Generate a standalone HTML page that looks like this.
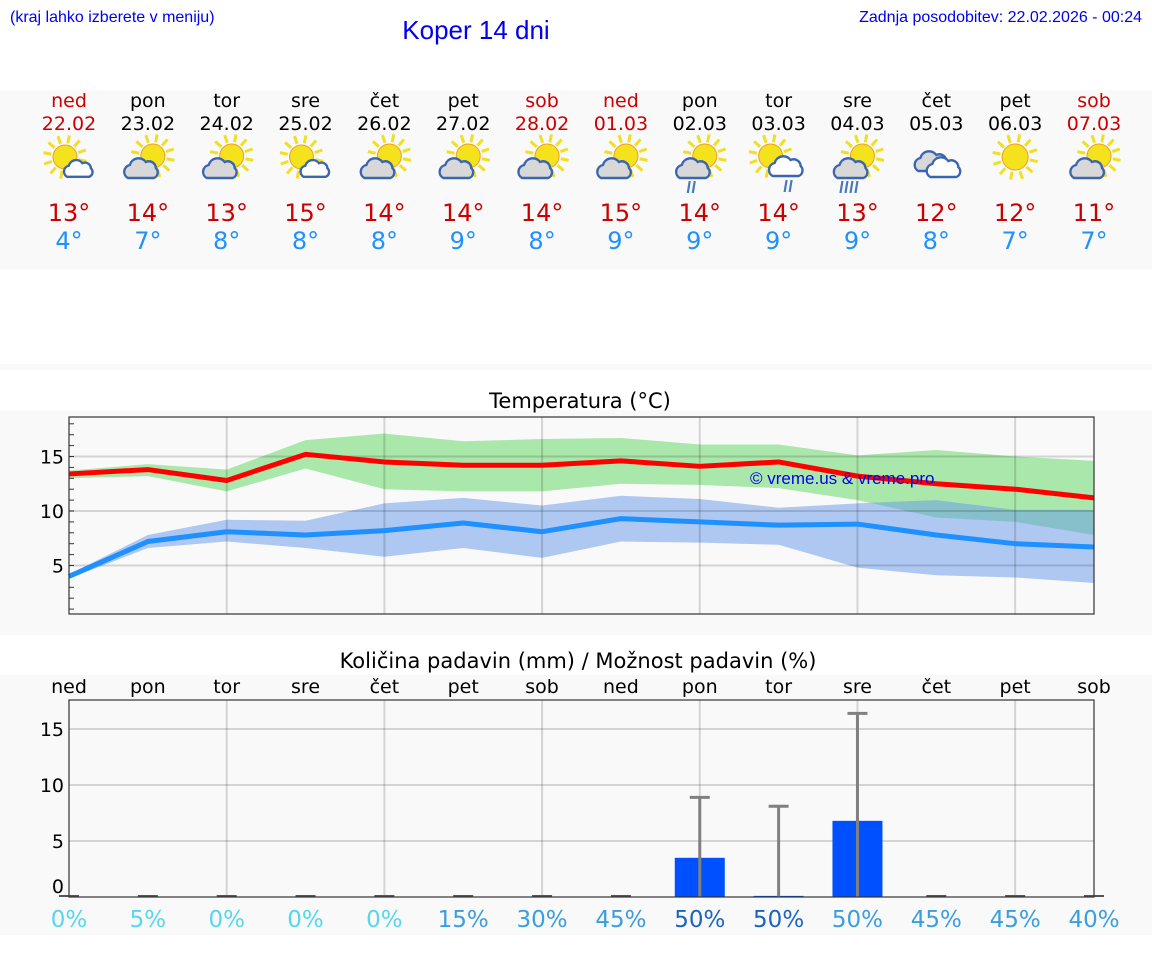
<!DOCTYPE html>
<html><head><meta charset="utf-8"><style>
html,body{margin:0;padding:0;background:#fff;width:1152px;height:975px;overflow:hidden}
svg{display:block}
.dj{font-family:"DejaVu Sans","Liberation Sans",sans-serif}
.lib{font-family:"Liberation Sans",sans-serif}
</style></head><body>
<svg id="page" width="1152" height="975" viewBox="0 0 1152 975" xmlns="http://www.w3.org/2000/svg">
<rect x="0" y="90" width="1152" height="180" fill="#f9f9f9"/>
<rect x="0" y="364" width="1152" height="6" fill="#f9f9f9"/>
<rect x="0" y="410" width="1152" height="225" fill="#f9f9f9"/>
<rect x="0" y="675" width="1152" height="260" fill="#f9f9f9"/>
<text x="10" y="22" class="lib" font-size="16" fill="#0000ee">(kraj lahko izberete v meniju)</text>
<text x="476" y="39" class="lib" font-size="26" fill="#0000ee" text-anchor="middle">Koper 14 dni</text>
<text x="1142" y="22" class="lib" font-size="16" fill="#0000ee" text-anchor="end">Zadnja posodobitev: 22.02.2026 - 00:24</text>
<g id="days"></g>
<g id="temp"></g>
<g id="prec"></g>
</svg>
<script>
const dayNames=["ned","pon","tor","sre","čet","pet","sob","ned","pon","tor","sre","čet","pet","sob"];
const dates=["22.02","23.02","24.02","25.02","26.02","27.02","28.02","01.03","02.03","03.03","04.03","05.03","06.03","07.03"];
const icons=["sunsmall","sc","sc","sunsmall","sc","sc","sc","sc","scrain","sunrain","scrain3","clouds","sun","sc"];
const maxT=[13.4,13.8,12.8,15.2,14.5,14.2,14.2,14.6,14.1,14.5,13.2,12.5,12.0,11.2];
const minT=[4.0,7.2,8.1,7.8,8.2,8.9,8.1,9.3,9.0,8.7,8.8,7.8,7.0,6.7];
const maxHi=[13.7,14.3,13.8,16.5,17.1,16.4,16.6,16.7,16.1,16.1,15.1,15.6,15.0,14.6];
const maxLo=[13.0,13.2,11.8,13.9,12.0,11.8,11.8,12.5,12.4,12.1,11.0,9.4,9.0,7.8];
const minHi=[4.2,7.8,9.2,9.1,10.7,11.2,10.5,11.4,11.1,10.3,10.7,11.0,10.1,10.1];
const minLo=[3.8,6.6,7.2,6.6,5.8,6.6,5.7,7.2,7.1,6.9,4.8,4.1,3.9,3.4];
const maxLabels=[13,14,13,15,14,14,14,15,14,14,13,12,12,11];
const minLabels=[4,7,8,8,8,9,8,9,9,9,9,8,7,7];
const tempTicks=[5,10,15];
const precip=[0,0,0,0,0,0,0,0,3.5,0.1,6.8,0,0,0];
const precipMax=[0,0,0,0,0,0,0,0,8.9,8.1,16.4,0,0,0];
const chance=[0,5,0,0,0,15,30,45,50,50,50,45,45,40];
const precipTicks=[0,5,10,15];
const NS="http://www.w3.org/2000/svg";
const weekend=[0,6,7,13];
function el(tag,attrs,parent,txt){const e=document.createElementNS(NS,tag);for(const k in attrs)e.setAttribute(k,attrs[k]);if(txt!==undefined)e.textContent=txt;parent.appendChild(e);return e;}
const X=i=>69+i*(1094-69)/13;
const TY=v=>511-(v-10)*10.9;
const PY=v=>897-v*11.2;

const days=document.getElementById('days');
function sun(g,cx,cy,r){
  for(let a=0;a<12;a++){const an=a*Math.PI/6+0.2;el('line',{x1:cx+Math.cos(an)*(r+2),y1:cy+Math.sin(an)*(r+2),x2:cx+Math.cos(an)*(r+10),y2:cy+Math.sin(an)*(r+10),stroke:'#f0e020','stroke-width':3},g);}
  el('circle',{cx:cx,cy:cy,r:r,fill:'#f4e21c',stroke:'#f0a020','stroke-width':1},g);
}
function cloud(g,cx,cy,s,fill){
  el('path',{d:`M${cx-14*s},${cy+8*s} a${7*s} ${7*s} 0 0 1 ${2*s},${-13*s} a${9*s} ${9*s} 0 0 1 ${16*s},${-3*s} a${7*s} ${7*s} 0 0 1 ${10*s},${6*s} a${6*s} ${6*s} 0 0 1 ${-2*s},${10*s} z`,fill:fill,stroke:'#3a66b0','stroke-width':2.4},g);
}
function rain(g,cx,cy,n){for(let k=0;k<n;k++){el('line',{x1:cx+k*5,y1:cy,x2:cx+k*5-2,y2:cy+12,stroke:'#4a78c0','stroke-width':2.2},g);}}
for(let i=0;i<14;i++){
  const x=X(i);const red=weekend.includes(i);
  const g=el('g',{},days);
  
  
  el('text',{x:x,y:107,'text-anchor':'middle','font-size':19,fill:red?'#cc0000':'#000',class:'dj'},g,dayNames[i]);
  el('text',{x:x,y:130,'text-anchor':'middle','font-size':19,fill:red?'#cc0000':'#000',class:'dj'},g,dates[i]);
  const ic=el('g',{},g);
  
  
  const t=icons[i];
  if(t==='sunsmall'){sun(ic,x-4,157,12);cloud(ic,x+10,170,0.85,'#fff');}
  else if(t==='sc'||t==='scrain'||t==='scrain3'){sun(ic,x+5,156,12);cloud(ic,x-6,170,1.0,'#d8d8d8');if(t==='scrain')rain(ic,x-10,181,2);if(t==='scrain3')rain(ic,x-15,181,4);}
  else if(t==='sunrain'){sun(ic,x-8,156,12);cloud(ic,x+8,168,1.0,'#fff');rain(ic,x+8,180,2);}
  else if(t==='clouds'){cloud(ic,x-4,163,1.0,'#d8d8d8');cloud(ic,x+8,169,1.0,'#fff');}
  else if(t==='sun'){sun(ic,x,157,13);}
  el('text',{x:x,y:221,'text-anchor':'middle','font-size':24,fill:'#cc0000',class:'dj'},g,maxLabels[i]+'°');
  el('text',{x:x,y:249,'text-anchor':'middle','font-size':24,fill:'#1e90ff',class:'dj'},g,minLabels[i]+'°');
}

const tg=document.getElementById('temp');
el('text',{x:580,y:408,'text-anchor':'middle','font-size':21,fill:'#000',class:'dj'},tg,'Temperatura (°C)');
const tbg=el('rect',{x:69,y:417,width:1025,height:197,fill:'#f9f9f9'},tg);


function band(hi,lo,fill,name){
  let d='M'+hi.map((v,i)=>X(i)+','+TY(v)).join(' L');
  d+=' L'+lo.map((v,i)=>X(i)+','+TY(v)).reverse().join(' L')+' Z';
  const p=el('path',{d:d,fill:fill,'fill-opacity':0.5},tg);
  
  
}
band(maxHi,maxLo,'#5cd65c','max-temp-range');
band(minHi,minLo,'#6397eb','min-temp-range');
for(const v of tempTicks){
  const gl=el('line',{x1:69,x2:1094,y1:TY(v),y2:TY(v),stroke:'#000','stroke-opacity':0.15,'stroke-width':2},tg);
  
  
  const tl=el('text',{x:64,y:TY(v)+7,'text-anchor':'end','font-size':19,fill:'#000',class:'dj'},tg,String(v));
  
  
}
for(let v=1;v<=18;v++){el('line',{x1:69,x2:74,y1:TY(v),y2:TY(v),stroke:'#333','stroke-width':1},tg);}
for(let i=2;i<13;i+=2){el('line',{x1:X(i),x2:X(i),y1:417,y2:614,stroke:'#000','stroke-opacity':0.15,'stroke-width':2},tg);}
function line(vals,color,name){
  const p=el('polyline',{points:vals.map((v,i)=>X(i)+','+TY(v)).join(' '),fill:'none',stroke:color,'stroke-width':5,'stroke-linejoin':'round'},tg);
  
  
}
line(maxT,'#ff0000','max-temp-line');
line(minT,'#1e90ff','min-temp-line');
const wm=el('text',{x:750,y:484,'font-size':17,fill:'#0000ee',class:'lib'},tg,'© vreme.us & vreme.pro');


el('rect',{x:69,y:417,width:1025,height:197,fill:'none',stroke:'#333','stroke-width':1.2},tg);

const pg=document.getElementById('prec');
el('text',{x:578,y:668,'text-anchor':'middle','font-size':21,fill:'#000',class:'dj'},pg,'Količina padavin (mm) / Možnost padavin (%)');
const pbg=el('rect',{x:69,y:700,width:1025,height:197,fill:'#f9f9f9'},pg);


for(const v of precipTicks){
  if(v>0){const gl=el('line',{x1:69,x2:1094,y1:PY(v),y2:PY(v),stroke:'#000','stroke-opacity':0.15,'stroke-width':2},pg);
  
  }
  const tl=el('text',{x:64,y:v===0?PY(v)-4:PY(v)+7,'text-anchor':'end','font-size':19,fill:'#000',class:'dj'},pg,String(v));
  
  
}
for(let i=2;i<13;i+=2){el('line',{x1:X(i),x2:X(i),y1:700,y2:897,stroke:'#000','stroke-opacity':0.15,'stroke-width':2},pg);}
for(let i=0;i<14;i++){
  const x=X(i);
  const dl=el('text',{x:x,y:693,'text-anchor':'middle','font-size':19,fill:'#000',class:'dj'},pg,dayNames[i]);
  
  
  if(precip[i]>0){
    const b=el('rect',{x:x-25,y:PY(precip[i]),width:50,height:897-PY(precip[i]),fill:'#0050ff'},pg);
    
    
  } else {
    el('line',{x1:x-10,x2:x+10,y1:896,y2:896,stroke:'#555','stroke-width':2},pg);
  }
  if(precipMax[i]>0){
    const e=el('path',{d:`M${x},897 V${PY(precipMax[i])} M${x-10},${PY(precipMax[i])} H${x+10}`,stroke:'#808080','stroke-width':3,fill:'none'},pg);
    
    
  }
  const c=chance[i];
  const col=c<10?'#55d8ec':(c>=50&&precip[i]<5?'#1a64c0':'#3a9ee0');
  const pl=el('text',{x:x,y:927,'text-anchor':'middle','font-size':23,fill:col,class:'dj'},pg,c+'%');
  
  
}
el('rect',{x:69,y:700,width:1025,height:197,fill:'none',stroke:'#333','stroke-width':1.2},pg);
</script>
</body></html>
